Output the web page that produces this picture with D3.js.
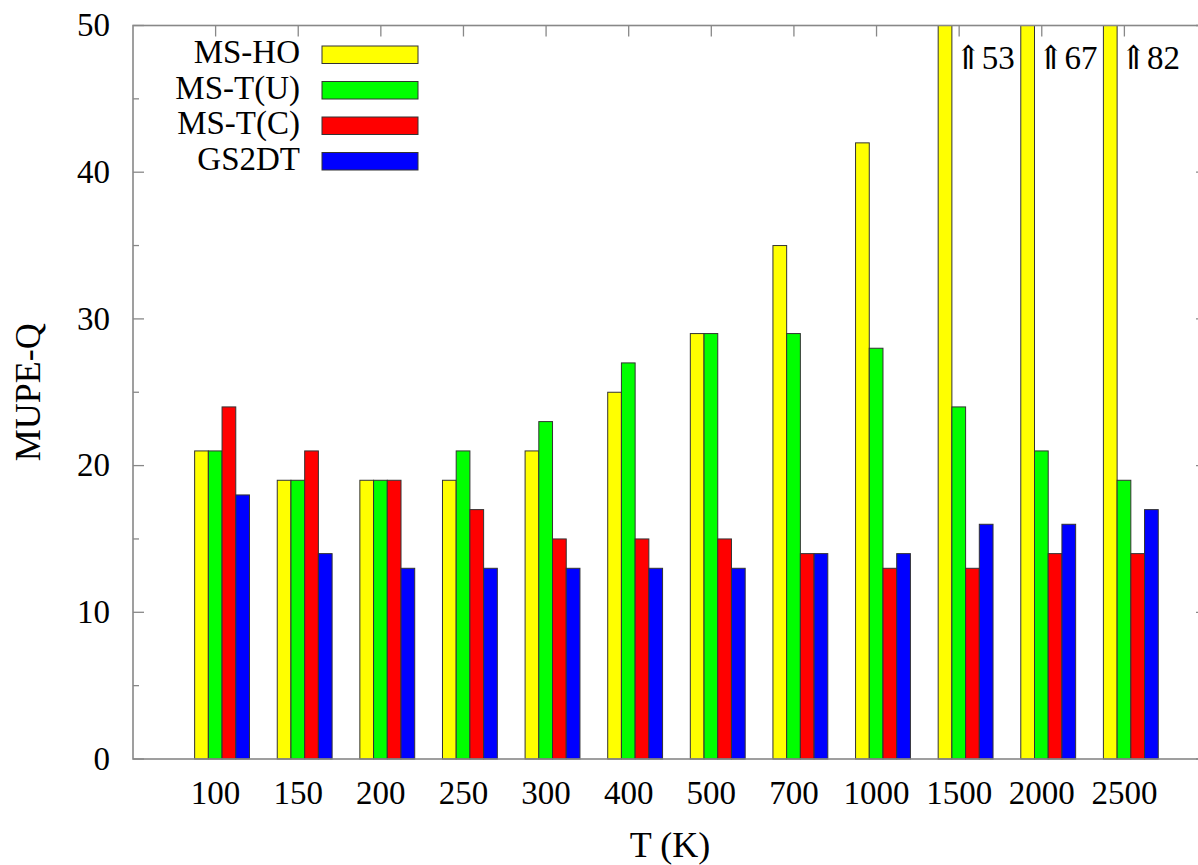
<!DOCTYPE html>
<html><head><meta charset="utf-8">
<script src="https://cdn.jsdelivr.net/npm/d3@7"></script>
<style>body{margin:0;background:#fff}svg{display:block}text{font-family:"Liberation Serif","DejaVu Serif",serif;fill:#000}</style>
</head><body>
<svg id="c" width="1198" height="865"></svg>
<script>
const categories = ["100","150","200","250","300","400","500","700","1000","1500","2000","2500"];
const seriesNames = ["MS-HO","MS-T(U)","MS-T(C)","GS2DT"];
const seriesColors = ["#ffff00","#00ff00","#ff0000","#0000ff"];
const msHO = [21,19,19,19,21,25,29,35,42,53,67,82];
const msTU = [21,19,19,21,23,27,29,29,28,24,21,19];
const msTC = [24,21,19,17,15,15,15,14,13,13,14,14];
const gs2dt = [18,14,13,13,13,13,13,14,14,16,16,17];
const yTicks = [0,10,20,30,40,50];
const yMinorTicks = [5,15,25,35,45];
const seriesValues = [msHO, msTU, msTC, gs2dt];

const svg = d3.select("#c");
const L = 133, R = 1207, T = 25.5, B = 759;
const x = d3.scaleLinear().domain([-1, 12]).range([L, R]);
const y = d3.scaleLinear().domain([0, 50]).range([B, T]);
const slot = x(1) - x(0);
const bw = slot * 0.166;
const off = -slot * 0.254;

const axisCol = "#888";
// ticks (drawn under bars)
const tk = svg.append("g").attr("stroke", axisCol).attr("stroke-width", 1.3);
yTicks.forEach(v => {
  tk.append("line").attr("x1", L).attr("x2", L + 11).attr("y1", y(v)).attr("y2", y(v));
  tk.append("line").attr("x1", R).attr("x2", R - 11).attr("y1", y(v)).attr("y2", y(v));
});
yMinorTicks.forEach(v => {
  tk.append("line").attr("x1", L).attr("x2", L + 6).attr("y1", y(v)).attr("y2", y(v));
  tk.append("line").attr("x1", R).attr("x2", R - 6).attr("y1", y(v)).attr("y2", y(v));
});
categories.forEach((c, i) => {
  tk.append("line").attr("x1", x(i)).attr("x2", x(i)).attr("y1", T).attr("y2", T + 11);
  tk.append("line").attr("x1", x(i)).attr("x2", x(i)).attr("y1", B).attr("y2", B - 11);
});

// bars
const bars = svg.append("g");
seriesValues.forEach((vals, s) => {
  bars.selectAll(null).data(vals).enter().append("rect")
    .attr("x", (d, i) => x(i) + off + s * bw)
    .attr("width", bw)
    .attr("y", d => y(Math.min(d, 50)))
    .attr("height", d => B - y(Math.min(d, 50)))
    .attr("fill", seriesColors[s])
    .attr("stroke", "#333").attr("stroke-width", 1);
});

// frame
svg.append("rect").attr("x", L).attr("y", T).attr("width", R - L).attr("height", B - T)
  .attr("fill", "none").attr("stroke", axisCol).attr("stroke-width", 1.6);

// y tick labels
svg.append("g").selectAll("text").data(yTicks).enter().append("text")
  .attr("x", 110).attr("y", d => y(d)).attr("dy", "0.33em")
  .attr("text-anchor", "end").attr("font-size", 33).text(d => d);

// x tick labels
svg.append("g").selectAll("text").data(categories).enter().append("text")
  .attr("x", (d, i) => x(i)).attr("y", 804)
  .attr("text-anchor", "middle").attr("font-size", 33).text(d => d);

// overflow annotations
msHO.forEach((v, i) => {
  if (v > 50) {
    svg.append("text").attr("x", x(i) - 5).attr("y", 69).attr("font-size", 33)
      .text("\u21D1" + v);
  }
});

// axis titles
svg.append("text").attr("x", (L + R) / 2).attr("y", 857).attr("text-anchor", "middle")
  .attr("font-size", 36).text("T (K)");
svg.append("text").attr("transform", `translate(40,${(T + B) / 2}) rotate(-90)`)
  .attr("text-anchor", "middle").attr("font-size", 36).text("MUPE-Q");

// legend
const lg = svg.append("g");
seriesNames.forEach((n, s) => {
  const by = 63 + s * 35.5;
  lg.append("text").attr("x", 300).attr("y", by).attr("text-anchor", "end")
    .attr("font-size", 33).text(n);
  lg.append("rect").attr("x", 322).attr("y", by - 17).attr("width", 96).attr("height", 17.5)
    .attr("fill", seriesColors[s]).attr("stroke", "#333").attr("stroke-width", 1);
});
</script>
</body></html>
